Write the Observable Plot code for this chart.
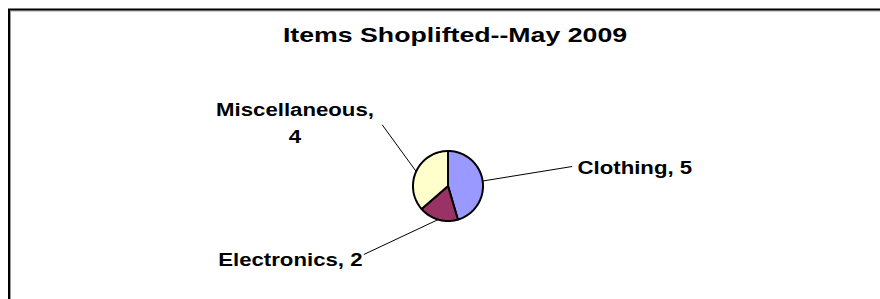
<!DOCTYPE html>
<html><head><meta charset="utf-8">
<script src="https://cdn.jsdelivr.net/npm/d3@7"></script>
<script src="https://cdn.jsdelivr.net/npm/@observablehq/plot@0.6"></script>
<style>body{margin:0;background:#fff;} svg{display:block;}</style>
</head><body><div id="chart"></div>
<script>
// ---- data ----
const title = "Items Shoplifted--May 2009";
const categories = ["Clothing", "Electronics", "Miscellaneous"];
const values = [5, 2, 4];
const colors = ["#9999FF", "#993366", "#FFFFCC"];

// ---- layout (pixels) ----
const W = 880, H = 299;
const center = [447.5, 185.5], radius = 35;
const titlePos = {x: 454.5, y: 41.5};
const labelLayout = {
  Clothing:      {x: 577,   y: 173,   anchor: "start",  wrap: false, leader: [571.7, 166]},
  Electronics:   {x: 362,   y: 265.5, anchor: "end",    wrap: false, leader: [363.3, 254]},
  Miscellaneous: {x: 294.5, y: 142,   anchor: "middle", wrap: true,  leader: [381.7, 124.3]}
};
const font = "'Liberation Sans', Arial, Helvetica, sans-serif";

const slicesData = categories.map((c, i) => ({name: c, value: values[i]}));
const arcs = d3.pie().sort(null).value(d => d.value)(slicesData);
const pt = (a, r) => ({x: center[0] + r * Math.sin(a), y: center[1] - r * Math.cos(a)});

const slicePoints = arcs.flatMap(a => {
  const n = 80, pts = [{name: a.data.name, ...pt(0, 0)}];
  for (let k = 0; k <= n; k++) pts.push({name: a.data.name, ...pt(a.startAngle + (a.endAngle - a.startAngle) * k / n, radius)});
  pts.push({name: a.data.name, ...pt(0, 0)});
  return pts;
});

const labels = arcs.map(a => {
  const L = labelLayout[a.data.name];
  const m = pt((a.startAngle + a.endAngle) / 2, radius);
  return {name: a.data.name, text: a.data.name + "," + (L.wrap ? "\n" : " ") + a.data.value,
    x: L.x, y: L.y, anchor: L.anchor, x1: m.x, y1: m.y, x2: L.leader[0], y2: L.leader[1]};
});

const plot = Plot.plot({
  width: W, height: H,
  marginTop: 9, marginLeft: 8.5, marginRight: -12, marginBottom: -12,
  x: {type: "identity", axis: null},
  y: {type: "identity", axis: null},
  color: {domain: categories, range: colors},
  style: {background: "#fff"},
  marks: [
    Plot.frame({stroke: "#999", strokeWidth: 1, inset: 1.5}),
    Plot.frame({stroke: "#000", strokeWidth: 2}),
    Plot.link(labels, {x1: "x1", y1: "y1", x2: "x2", y2: "y2", stroke: "#000", strokeWidth: 1}),
    Plot.line(slicePoints, {x: "x", y: "y", z: "name", fill: "name", stroke: "#000", strokeWidth: 2, strokeLinejoin: "round", curve: "linear"}),
    ...["start", "middle", "end"].map(anc => Plot.text(labels.filter(d => d.anchor === anc), {
      x: "x", y: "y", text: "text", textAnchor: anc, lineAnchor: "bottom", lineHeight: 1.45,
      fontFamily: font, fontWeight: "bold", fontSize: 18.5, fill: "#000", ariaDescription: "label"
    })),
    Plot.text([title], {x: () => titlePos.x, y: () => titlePos.y, text: d => d, textAnchor: "middle", lineAnchor: "bottom",
      fontFamily: font, fontWeight: "bold", fontSize: 19.5, fill: "#000", ariaDescription: "title"})
  ]
});
document.getElementById("chart").appendChild(plot);

// horizontal stretch of the text, as in the reference rendering
function stretch(sel, s) {
  plot.querySelectorAll(sel).forEach(t => {
    let tr = t.getAttribute("transform");
    if (!tr) {
      const x = t.getAttribute("x") || 0, y = t.getAttribute("y") || 0;
      t.removeAttribute("x"); t.removeAttribute("y");
      tr = `translate(${x},${y})`;
    }
    t.setAttribute("transform", tr + ` scale(${s},1)`);
  });
}
stretch('g[aria-description="label"] text', 1.2);
stretch('g[aria-description="title"] text', 1.37);
</script>
</body></html>
